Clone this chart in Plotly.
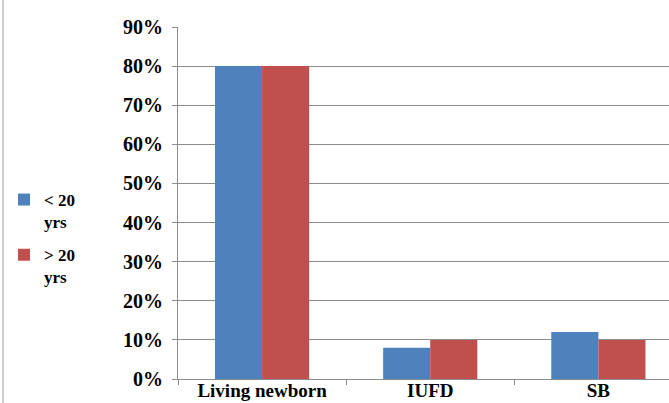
import plotly.graph_objects as go

categories = ["Living newborn", "IUFD", "SB"]
under20 = [0.80, 0.08, 0.12]
over20 = [0.80, 0.10, 0.10]
series_names = ["< 20<br>yrs", "> 20<br>yrs"]
colors = ["#4F81BD", "#C0504D"]

fig = go.Figure()
for i, (name, vals, col) in enumerate(zip(series_names, [under20, over20], colors)):
    fig.add_trace(go.Bar(x=categories, y=vals, name=name, legendgroup=f"g{i}",
                         marker=dict(color=col, line=dict(width=0))))

W, H = 669, 403
L, R, T, B = 178, 0, 27, 24
pw = W - L - R
ph = H - T - B

fig.update_layout(
    width=W, height=H,
    margin=dict(l=L, r=R, t=T, b=B, autoexpand=False),
    paper_bgcolor="white", plot_bgcolor="white",
    barmode="group", bargap=0.44, bargroupgap=0,
    font=dict(family="Liberation Serif", color="black"),
    legend=dict(xref="container", yref="container",
                x=4 / W, xanchor="left", y=1 - 182 / H, yanchor="top",
                valign="top", tracegroupgap=8, itemwidth=30,
                font=dict(family="Liberation Serif", size=17, color="black",
                          weight="bold"),
                bgcolor="rgba(0,0,0,0)"),
    showlegend=True,
)
fig.update_xaxes(range=[-0.5, 2.42], showline=True, linecolor="#8c8c8c",
                 linewidth=1, ticks="outside", tickson="boundaries",
                 ticklen=5, tickcolor="#8c8c8c", showgrid=False,
                 ticklabelstandoff=-6,
                 tickfont=dict(family="Liberation Serif", size=19,
                               color="black", weight="bold"),
                 automargin=False)
fig.update_yaxes(range=[0, 0.9], dtick=0.1, tickformat=".0%",
                 showgrid=True, gridcolor="#8c8c8c", gridwidth=1,
                 showline=True, linecolor="#8c8c8c", linewidth=1,
                 ticks="outside", ticklen=5, tickcolor="#8c8c8c",
                 zeroline=False, ticklabelstandoff=5,
                 tickfont=dict(family="Liberation Serif", size=20,
                               color="black", weight="bold"),
                 automargin=False)
fig.add_shape(type="line", xref="paper", yref="paper",
              x0=-175 / pw, x1=-175 / pw, y0=-B / ph, y1=1 + T / ph,
              line=dict(color="#a0a0a0", width=1))

fig.write_html("out.html", config={"displayModeBar": False},
               post_script="document.body.style.margin='0';")
